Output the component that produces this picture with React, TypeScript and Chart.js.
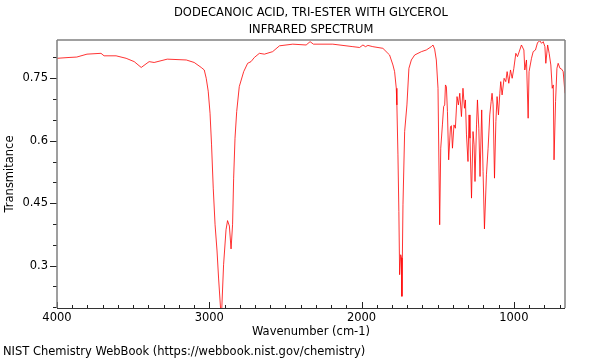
import { useEffect, useRef } from 'react';
import { Chart, registerables } from 'chart.js';

Chart.register(...registerables);

const wavenumbers = [
  4000, 3921, 3870, 3803, 3711, 3691, 3612, 3546, 3493, 3447, 3395, 3362, 3276, 3151, 3099, 3053,
  3033, 3020, 3007, 2995, 2985, 2974, 2962, 2949, 2939, 2921, 2906, 2890, 2880, 2868, 2857, 2847,
  2840, 2831, 2820, 2803, 2774, 2748, 2726, 2704, 2671, 2638, 2584, 2539, 2452, 2364, 2338, 2316,
  2189, 2057, 2013, 1991, 1974, 1958, 1926, 1860, 1827, 1816, 1794, 1783, 1772, 1768, 1761, 1755,
  1750, 1743, 1737, 1735, 1728, 1717, 1702, 1689, 1673, 1651, 1607, 1575, 1542, 1531, 1520, 1509,
  1498, 1487, 1480, 1469, 1461, 1454, 1449, 1443, 1436, 1428, 1416, 1410, 1403, 1393, 1384, 1373,
  1364, 1355, 1344, 1334, 1324, 1318, 1311, 1301, 1294, 1288, 1278, 1268, 1261, 1255, 1245, 1239,
  1230, 1222, 1211, 1202, 1193, 1180, 1169, 1158, 1149, 1143, 1136, 1127, 1118, 1110, 1101, 1092,
  1086, 1077, 1064, 1053, 1044, 1033, 1022, 1011, 1000, 987, 976, 961, 950, 934, 928, 917,
  906, 900, 884, 873, 858, 844, 829, 818, 807, 796, 790, 778, 768, 757, 748, 741,
  736, 726, 717, 709, 697, 686, 676, 664,
];

const transmittance = [
  0.798, 0.8, 0.801, 0.808, 0.81, 0.804, 0.804, 0.798, 0.79, 0.776, 0.79, 0.788, 0.796, 0.794, 0.788, 0.776,
  0.77, 0.75, 0.719, 0.666, 0.59, 0.486, 0.398, 0.335, 0.27, 0.17, 0.302, 0.386, 0.408, 0.395, 0.34, 0.398,
  0.51, 0.606, 0.67, 0.73, 0.766, 0.786, 0.79, 0.8, 0.81, 0.808, 0.814, 0.828, 0.832, 0.83, 0.838, 0.832,
  0.832, 0.826, 0.824, 0.83, 0.826, 0.829, 0.826, 0.822, 0.81, 0.806, 0.782, 0.766, 0.726, 0.686, 0.566, 0.43,
  0.278, 0.326, 0.318, 0.226, 0.446, 0.622, 0.686, 0.774, 0.794, 0.806, 0.814, 0.818, 0.826, 0.83, 0.82, 0.794,
  0.726, 0.398, 0.582, 0.638, 0.682, 0.686, 0.734, 0.73, 0.67, 0.554, 0.634, 0.636, 0.582, 0.638, 0.63, 0.706,
  0.686, 0.714, 0.658, 0.726, 0.678, 0.698, 0.614, 0.55, 0.662, 0.606, 0.462, 0.622, 0.59, 0.502, 0.638, 0.698,
  0.63, 0.514, 0.674, 0.526, 0.388, 0.518, 0.582, 0.662, 0.694, 0.714, 0.686, 0.51, 0.646, 0.706, 0.662, 0.714,
  0.742, 0.71, 0.75, 0.742, 0.766, 0.738, 0.77, 0.75, 0.774, 0.81, 0.802, 0.818, 0.83, 0.818, 0.77, 0.794,
  0.654, 0.766, 0.798, 0.814, 0.818, 0.836, 0.84, 0.834, 0.838, 0.826, 0.786, 0.83, 0.81, 0.782, 0.726, 0.734,
  0.554, 0.694, 0.774, 0.786, 0.774, 0.772, 0.766, 0.714,
];

const titleLines = ['DODECANOIC ACID, TRI-ESTER WITH GLYCEROL', 'INFRARED SPECTRUM'];
const xAxisTitle = 'Wavenumber (cm-1)';
const yAxisTitle = 'Transmitance';
const sourceNote = 'NIST Chemistry WebBook (https://webbook.nist.gov/chemistry)';

const xMin = 664;
const xMax = 4000;
const yMin = 0.198;
const yMax = 0.842;
const xTickLabels = [4000, 3000, 2000, 1000];
const yTickLabels = [0.3, 0.45, 0.6, 0.75];
const xMinorStep = 100;
const yMinorStep = 0.05;

const FONT = '"DejaVu Sans", sans-serif';
const FONT_SIZE = 11.5;

export default function App() {
  const canvasRef = useRef<HTMLCanvasElement>(null);

  useEffect(() => {
    document.body.style.margin = '0';
    const canvas = canvasRef.current;
    if (!canvas) return;

    const framePlugin = {
      id: 'frameAndTicks',
      afterDraw(chart: any) {
        const { ctx, chartArea: a, scales } = chart;
        const xs = scales.x;
        const ys = scales.y;
        ctx.save();
        ctx.strokeStyle = '#222';
        ctx.lineWidth = 1;
        const xStart = Math.ceil(xMin / xMinorStep);
        const xEnd = Math.floor(xMax / xMinorStep);
        for (let k = xStart; k <= xEnd; k++) {
          const v = k * xMinorStep;
          const px = Math.round(xs.getPixelForValue(v)) + 0.5;
          const major = v % 1000 === 0;
          ctx.beginPath();
          ctx.moveTo(px, a.bottom);
          ctx.lineTo(px, a.bottom - (major ? 6 : 3));
          ctx.stroke();
        }
        const yStart = Math.ceil(yMin / yMinorStep);
        const yEnd = Math.floor(yMax / yMinorStep);
        for (let k = yStart; k <= yEnd; k++) {
          const v = k * yMinorStep;
          const py = Math.round(ys.getPixelForValue(v)) + 0.5;
          const major = yTickLabels.some((t) => Math.abs(t - v) < 1e-6);
          ctx.beginPath();
          ctx.moveTo(a.left, py);
          ctx.lineTo(a.left - (major ? 7 : 4), py);
          ctx.stroke();
        }
        ctx.strokeStyle = '#a0a0a0';
        ctx.lineWidth = 2;
        ctx.beginPath();
        ctx.moveTo(a.left, a.top);
        ctx.lineTo(a.right, a.top);
        ctx.stroke();
        ctx.strokeStyle = '#808080';
        ctx.lineWidth = 1.5;
        ctx.beginPath();
        ctx.moveTo(a.left, a.top);
        ctx.lineTo(a.left, a.bottom);
        ctx.moveTo(a.right, a.top);
        ctx.lineTo(a.right, a.bottom);
        ctx.stroke();
        ctx.strokeStyle = '#333';
        ctx.lineWidth = 1;
        ctx.beginPath();
        ctx.moveTo(a.left, a.bottom + 0.5);
        ctx.lineTo(a.right, a.bottom + 0.5);
        ctx.stroke();
        ctx.fillStyle = '#000';
        ctx.font = `${FONT_SIZE}px ${FONT}`;
        ctx.textAlign = 'left';
        ctx.textBaseline = 'middle';
        ctx.fillText(sourceNote, 3, 352);
        ctx.restore();
      },
    };

    const chart = new Chart(canvas, {
      type: 'line',
      data: {
        datasets: [
          {
            data: wavenumbers.map((x, i) => ({ x, y: transmittance[i] })),
            borderColor: 'rgba(255,0,0,0.8)',
            borderWidth: 1,
            pointRadius: 0,
            tension: 0,
            fill: false,
          },
        ],
      },
      options: {
        animation: false,
        responsive: false,
        maintainAspectRatio: false,
        layout: { padding: { left: 0, right: 35, top: 0, bottom: 16 } },
        plugins: {
          legend: { display: false },
          tooltip: { enabled: false },
          title: {
            display: true,
            text: titleLines,
            fullSize: false,
            color: '#000',
            font: { family: FONT, size: FONT_SIZE, weight: 'normal', lineHeight: '17px' },
            padding: { top: 4.5, bottom: 1.5 },
          },
        },
        scales: {
          x: {
            type: 'linear',
            reverse: true,
            min: xMin,
            max: xMax,
            afterBuildTicks: (s: any) => {
              s.ticks = xTickLabels.map((v) => ({ value: v }));
            },
            afterFit: (s: any) => {
              s.height = 36;
            },
            ticks: {
              autoSkip: false,
              maxRotation: 0,
              padding: 3,
              color: '#000',
              font: { family: FONT, size: FONT_SIZE },
              callback: (v: any) => String(v),
            },
            grid: { display: false, drawTicks: false },
            border: { display: false },
            title: {
              display: true,
              text: xAxisTitle,
              color: '#000',
              font: { family: FONT, size: FONT_SIZE },
              padding: { top: 0, bottom: 5 },
            },
          },
          y: {
            type: 'linear',
            min: yMin,
            max: yMax,
            afterBuildTicks: (s: any) => {
              s.ticks = yTickLabels.map((v) => ({ value: v }));
            },
            afterFit: (s: any) => {
              s.width = 57;
            },
            ticks: {
              autoSkip: false,
              padding: 9,
              color: '#000',
              font: { family: FONT, size: FONT_SIZE },
              callback: (v: any) => String(v),
            },
            grid: { display: false, drawTicks: false },
            border: { display: false },
            title: {
              display: true,
              text: yAxisTitle,
              color: '#000',
              font: { family: FONT, size: FONT_SIZE },
              padding: { top: 3, bottom: 0 },
            },
          },
        },
      },
      plugins: [framePlugin],
    });

    return () => chart.destroy();
  }, []);

  return <canvas ref={canvasRef} width={600} height={360} style={{ display: 'block' }} />;
}
